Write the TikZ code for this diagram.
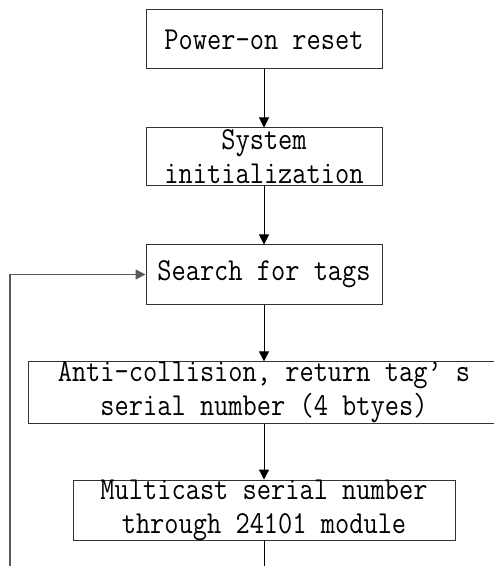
\documentclass[tikz,border=0pt]{standalone}
\usepackage{fontspec}
\setmainfont{Latin Modern Mono}[FakeStretch=0.863]
\usetikzlibrary{arrows.meta}

\begin{document}
\begin{tikzpicture}[x=0.5pt,y=-0.5pt,
	box/.style={draw=black!80, line width=0.5pt, inner sep=0pt, align=center,
		font=\fontsize{16pt}{17pt}\selectfont},
	>={Triangle[width=5pt,length=5pt]}]
	\useasboundingbox (0,0) rectangle (493,566);
	\node[box, minimum width=118pt, minimum height=29.5pt] (reset) at (264,39.5) {Power-on reset};
	\node[box, minimum width=118pt, minimum height=29pt] (init) at (264,157) {System\\initialization};
		\node[box, minimum width=118pt, minimum height=29.5pt] (search) at (264,274.5) {Search for tags};
		\node[box, minimum width=236pt, minimum height=29.5pt] (anticoll) at (264,392.5) {Anti-collision, return tag’ s\\serial number (4 btyes)};
			\node[box, minimum width=191pt, minimum height=29.5pt] (multicast) at (264,510.5) {Multicast serial number\\through 24101 module};
	\coordinate (out) at (264,566);
	\coordinate (back) at (10,566);
	\draw[line width=0.5pt][->] (reset) to (init);
	\draw[line width=0.5pt][->] (init) to (search);
	\draw[line width=0.5pt][->] (search) to (anticoll);
	\draw[line width=0.5pt][->] (anticoll) to (multicast);
	\draw[line width=0.5pt][-] (multicast) to (out);
	\draw[line width=0.7pt, black!65][->] (back) |- (search.west);
\end{tikzpicture}
\end{document}
